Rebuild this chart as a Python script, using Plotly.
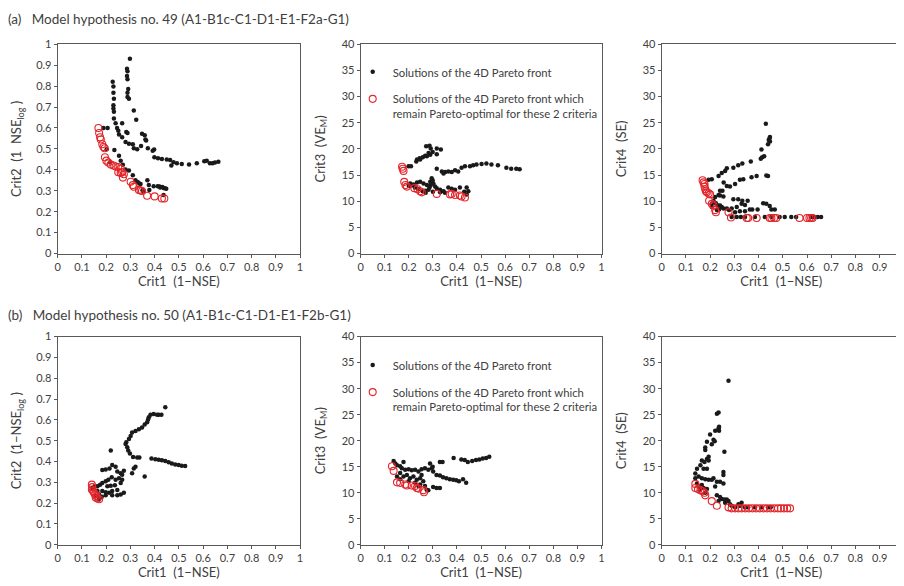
import plotly.graph_objects as go

# ---------------- DATA ----------------
x_ticks = [0, 0.1, 0.2, 0.3, 0.4, 0.5, 0.6, 0.7, 0.8, 0.9, 1]

# (a) hypothesis 49 : Crit1 vs Crit2
a12_black_x = [0.298, 0.286, 0.288, 0.286, 0.288, 0.291, 0.288, 0.288, 0.294, 0.227, 0.230, 0.230, 0.232, 0.230,
               0.230, 0.232, 0.232, 0.239, 0.245, 0.250, 0.314, 0.324, 0.189, 0.206, 0.266, 0.253, 0.266, 0.283,
               0.288, 0.280, 0.294, 0.310, 0.314, 0.328, 0.348, 0.359, 0.362, 0.365, 0.344, 0.372, 0.392, 0.398,
               0.399, 0.414, 0.430, 0.450, 0.464, 0.469, 0.478, 0.492, 0.512, 0.542, 0.574, 0.605, 0.615, 0.628,
               0.639, 0.649, 0.663, 0.202, 0.216, 0.234, 0.253, 0.260, 0.269, 0.280, 0.294, 0.310, 0.321, 0.337,
               0.370, 0.376, 0.396, 0.413, 0.423, 0.437, 0.448, 0.437, 0.378, 0.355, 0.330, 0.342, 0.420, 0.432,
               0.442, 0.350]
a12_black_y = [0.931, 0.883, 0.871, 0.849, 0.833, 0.787, 0.768, 0.748, 0.740, 0.821, 0.799, 0.768, 0.740, 0.709,
               0.693, 0.678, 0.646, 0.623, 0.600, 0.587, 0.684, 0.639, 0.600, 0.600, 0.623, 0.569, 0.556, 0.581,
               0.576, 0.533, 0.525, 0.522, 0.503, 0.498, 0.572, 0.565, 0.545, 0.540, 0.514, 0.503, 0.491, 0.497,
               0.460, 0.455, 0.452, 0.449, 0.447, 0.421, 0.436, 0.431, 0.428, 0.425, 0.431, 0.441, 0.444, 0.431,
               0.431, 0.435, 0.439, 0.498, 0.436, 0.495, 0.467, 0.444, 0.424, 0.402, 0.397, 0.374, 0.350, 0.335,
               0.350, 0.327, 0.322, 0.322, 0.316, 0.313, 0.310, 0.280, 0.304, 0.296, 0.342, 0.332, 0.320, 0.318,
               0.312, 0.302]
a12_red_x = [0.168, 0.171, 0.175, 0.178, 0.184, 0.189, 0.194, 0.195, 0.201, 0.209, 0.219, 0.230, 0.239, 0.250,
             0.260, 0.250, 0.260, 0.266, 0.273, 0.269, 0.301, 0.310, 0.314, 0.335, 0.342, 0.348, 0.369, 0.400,
             0.430, 0.440]
a12_red_y = [0.600, 0.576, 0.556, 0.545, 0.522, 0.509, 0.503, 0.460, 0.444, 0.435, 0.425, 0.421, 0.416, 0.413,
             0.405, 0.389, 0.385, 0.389, 0.379, 0.363, 0.343, 0.327, 0.319, 0.304, 0.301, 0.299, 0.276, 0.273,
             0.263, 0.263]

# (a) hypothesis 49 : Crit1 vs Crit3
a13_black_x = [0.272, 0.286, 0.291, 0.316, 0.333, 0.299, 0.316, 0.289, 0.275, 0.258, 0.245, 0.234, 0.231, 0.247,
               0.268, 0.282, 0.199, 0.209, 0.316, 0.337, 0.351, 0.364, 0.344, 0.378, 0.392, 0.405, 0.419, 0.433,
               0.454, 0.467, 0.481, 0.502, 0.522, 0.543, 0.570, 0.605, 0.625, 0.646, 0.660, 0.206, 0.220, 0.234,
               0.247, 0.261, 0.275, 0.289, 0.295, 0.299, 0.302, 0.309, 0.316, 0.330, 0.344, 0.364, 0.378, 0.392,
               0.412, 0.440, 0.447, 0.282, 0.268, 0.286, 0.291, 0.258, 0.270, 0.300, 0.330, 0.350, 0.440, 0.430,
               0.200, 0.210, 0.225, 0.240]
a13_black_y = [20.5, 20.6, 20.1, 20.1, 19.9, 19.4, 19.0, 18.9, 18.6, 18.4, 18.2, 18.0, 17.6, 18.0,
               18.7, 19.2, 16.7, 16.7, 16.2, 15.7, 15.6, 15.7, 15.3, 15.6, 15.9, 15.7, 16.4, 16.7,
               16.7, 16.9, 17.0, 17.1, 17.2, 17.0, 16.9, 16.4, 16.2, 16.2, 16.1, 13.4, 13.2, 13.6,
               13.7, 13.4, 13.1, 13.7, 14.4, 14.0, 13.4, 12.8, 12.5, 12.2, 11.9, 12.6, 12.4, 12.2,
               12.6, 12.6, 11.9, 12.2, 12.0, 12.6, 13.1, 11.9, 11.6, 11.8, 11.7, 11.6, 11.3, 11.8,
               12.9, 13.0, 12.6, 12.3]
a13_red_x = [0.172, 0.175, 0.178, 0.181, 0.186, 0.192, 0.223, 0.236, 0.247, 0.254, 0.316, 0.371, 0.378, 0.392,
             0.412, 0.419, 0.433]
a13_red_y = [16.6, 16.2, 15.8, 13.7, 13.1, 12.8, 12.5, 12.3, 11.9, 11.7, 11.4, 11.3, 11.4, 11.2,
             11.1, 10.9, 10.7]

# (a) hypothesis 49 : Crit1 vs Crit4
a14_black_x = [0.430, 0.447, 0.445, 0.442, 0.447, 0.439, 0.412, 0.415, 0.409, 0.423, 0.368, 0.333, 0.316, 0.296,
               0.269, 0.262, 0.248, 0.235, 0.207, 0.194, 0.439, 0.432, 0.392, 0.371, 0.337, 0.323, 0.303, 0.282,
               0.269, 0.256, 0.241, 0.235, 0.255, 0.241, 0.251, 0.296, 0.316, 0.333, 0.355, 0.330, 0.344, 0.364,
               0.374, 0.396, 0.419, 0.432, 0.446, 0.453, 0.467, 0.221, 0.214, 0.207, 0.207, 0.224, 0.232, 0.241,
               0.248, 0.228, 0.237, 0.255, 0.269, 0.278, 0.289, 0.303, 0.323, 0.344, 0.310, 0.289, 0.310, 0.327,
               0.344, 0.385, 0.426, 0.453, 0.487, 0.508, 0.535, 0.555, 0.617, 0.630, 0.644, 0.658]
a14_black_y = [24.8, 22.3, 22.0, 21.7, 21.4, 20.9, 19.9, 18.4, 18.1, 18.6, 17.6, 17.2, 16.9, 16.4,
               16.3, 15.8, 15.4, 14.8, 14.2, 14.1, 14.8, 14.9, 14.8, 14.6, 14.2, 14.1, 13.3, 12.8,
               12.9, 13.6, 12.0, 11.2, 10.9, 11.1, 12.0, 10.4, 10.4, 10.1, 10.1, 9.5, 9.3, 8.4,
               8.4, 8.4, 9.6, 9.5, 9.1, 8.4, 8.4, 10.8, 10.1, 9.5, 8.9, 9.6, 9.2, 9.2,
               8.9, 8.3, 8.4, 8.6, 8.6, 8.3, 8.6, 7.9, 8.1, 8.1, 8.9, 7.0, 7.0, 7.0,
               7.0, 7.0, 7.0, 7.0, 7.0, 7.0, 7.0, 7.0, 7.0, 7.0, 7.0, 7.0]
a14_red_x = [0.169, 0.173, 0.177, 0.177, 0.180, 0.183, 0.187, 0.194, 0.200, 0.196, 0.207, 0.214, 0.221, 0.224,
             0.276, 0.286, 0.351, 0.357, 0.392, 0.446, 0.453, 0.464, 0.473, 0.569, 0.600, 0.610, 0.617, 0.623]
a14_red_y = [14.0, 13.6, 13.3, 12.8, 12.3, 11.9, 11.7, 11.5, 11.3, 10.1, 9.5, 9.2, 8.3, 7.9,
             7.9, 6.9, 6.8, 6.8, 6.8, 6.8, 6.8, 6.8, 6.8, 6.8, 6.8, 6.8, 6.8, 6.8]

# (b) hypothesis 50 : Crit1 vs Crit2
b12_black_x = [0.444, 0.417, 0.396, 0.410, 0.428, 0.383, 0.376, 0.373, 0.369, 0.359, 0.348, 0.335, 0.321, 0.307,
               0.301, 0.294, 0.283, 0.280, 0.287, 0.291, 0.298, 0.311, 0.328, 0.337, 0.219, 0.387, 0.403, 0.417,
               0.430, 0.444, 0.458, 0.471, 0.485, 0.499, 0.512, 0.526, 0.321, 0.314, 0.307, 0.359, 0.184, 0.198,
               0.214, 0.225, 0.239, 0.246, 0.260, 0.273, 0.266, 0.253, 0.239, 0.223, 0.209, 0.198, 0.184, 0.175,
               0.164, 0.153, 0.143, 0.205, 0.219, 0.236, 0.260, 0.266, 0.246, 0.225, 0.212, 0.198, 0.184, 0.171,
               0.182, 0.198, 0.225, 0.246, 0.260, 0.273, 0.164, 0.157, 0.171]
b12_black_y = [0.661, 0.625, 0.628, 0.625, 0.625, 0.625, 0.613, 0.602, 0.589, 0.578, 0.563, 0.555, 0.547, 0.539,
               0.523, 0.508, 0.492, 0.484, 0.469, 0.453, 0.438, 0.422, 0.419, 0.419, 0.453, 0.414, 0.411, 0.409,
               0.406, 0.403, 0.397, 0.391, 0.386, 0.383, 0.380, 0.378, 0.375, 0.367, 0.344, 0.328, 0.359, 0.362,
               0.367, 0.383, 0.375, 0.352, 0.344, 0.356, 0.336, 0.320, 0.313, 0.325, 0.313, 0.305, 0.297, 0.289,
               0.281, 0.281, 0.273, 0.281, 0.284, 0.286, 0.297, 0.313, 0.263, 0.258, 0.250, 0.253, 0.258, 0.242,
               0.231, 0.238, 0.238, 0.238, 0.242, 0.250, 0.258, 0.234, 0.219]
b12_red_x = [0.141, 0.143, 0.141, 0.146, 0.150, 0.154, 0.161, 0.164, 0.171, 0.157]
b12_red_y = [0.289, 0.277, 0.266, 0.258, 0.250, 0.242, 0.234, 0.223, 0.219, 0.227]

# (b) hypothesis 50 : Crit1 vs Crit3
b13_black_x = [0.534, 0.521, 0.507, 0.493, 0.479, 0.463, 0.445, 0.432, 0.418, 0.386, 0.340, 0.329, 0.299, 0.288,
               0.295, 0.301, 0.315, 0.329, 0.342, 0.356, 0.370, 0.384, 0.397, 0.408, 0.425, 0.438, 0.301, 0.315,
               0.329, 0.137, 0.144, 0.151, 0.164, 0.178, 0.171, 0.185, 0.199, 0.212, 0.226, 0.240, 0.253, 0.267,
               0.281, 0.164, 0.178, 0.192, 0.205, 0.219, 0.233, 0.247, 0.253, 0.260, 0.226, 0.247, 0.267, 0.274,
               0.281, 0.240, 0.164, 0.151, 0.199]
b13_black_y = [16.9, 16.7, 16.6, 16.4, 16.3, 16.1, 15.9, 16.3, 16.4, 16.7, 15.9, 15.9, 15.0, 15.6,
               14.7, 14.1, 13.4, 13.3, 13.0, 12.8, 12.6, 12.5, 12.4, 12.2, 12.6, 11.9, 11.1, 10.9,
               10.9, 16.1, 15.6, 15.3, 15.1, 15.9, 14.7, 14.4, 14.5, 14.3, 14.4, 14.1, 14.5, 14.7,
               14.4, 13.8, 13.1, 13.4, 12.8, 13.1, 12.5, 12.8, 13.4, 12.2, 11.9, 11.6, 11.3, 10.6,
               10.5, 11.3, 12.6, 13.1, 12.2]
b13_red_x = [0.130, 0.137, 0.151, 0.164, 0.185, 0.192, 0.212, 0.226, 0.233, 0.240, 0.260, 0.263]
b13_red_y = [15.1, 14.2, 12.0, 11.9, 11.6, 11.4, 11.4, 11.3, 10.9, 10.8, 10.5, 10.1]

# (b) hypothesis 50 : Crit1 vs Crit4
b14_black_x = [0.276, 0.235, 0.228, 0.237, 0.235, 0.237, 0.221, 0.214, 0.207, 0.219, 0.200, 0.180, 0.180, 0.187,
               0.194, 0.187, 0.194, 0.177, 0.166, 0.160, 0.146, 0.173, 0.187, 0.259, 0.255, 0.255, 0.255, 0.139,
               0.139, 0.153, 0.166, 0.180, 0.194, 0.207, 0.214, 0.228, 0.241, 0.221, 0.146, 0.166, 0.153, 0.173,
               0.187, 0.158, 0.180, 0.228, 0.241, 0.248, 0.259, 0.269, 0.276, 0.235, 0.262, 0.282, 0.289, 0.317,
               0.330, 0.323, 0.303, 0.344, 0.357, 0.385, 0.412, 0.439, 0.450]
b14_black_y = [31.5, 25.4, 25.2, 22.7, 22.4, 21.9, 21.9, 20.2, 19.3, 19.9, 21.2, 18.7, 18.2, 19.8,
               16.9, 16.5, 16.2, 15.9, 16.2, 15.3, 14.6, 14.6, 14.6, 17.9, 14.0, 13.4, 11.8, 13.7,
               12.8, 13.1, 12.8, 12.6, 12.5, 12.5, 12.8, 12.1, 12.1, 11.2, 11.8, 11.5, 11.2, 10.9,
               10.7, 10.6, 10.0, 9.5, 9.2, 8.8, 8.7, 8.7, 8.4, 8.4, 8.1, 7.8, 7.5, 7.8,
               8.1, 7.5, 7.2, 7.2, 7.2, 7.2, 7.2, 7.2, 7.2]
b14_red_x = [0.139, 0.139, 0.150, 0.160, 0.169, 0.177, 0.180, 0.207, 0.228, 0.276, 0.289, 0.303, 0.317, 0.330,
             0.345, 0.360, 0.375, 0.390, 0.405, 0.420, 0.435, 0.450, 0.465, 0.480, 0.492, 0.505, 0.518, 0.530]
b14_red_y = [11.7, 10.9, 10.7, 10.5, 10.3, 10.0, 9.5, 8.4, 7.5, 7.2, 7.0, 7.0, 7.0, 7.0,
             7.0, 7.0, 7.0, 7.0, 7.0, 7.0, 7.0, 7.0, 7.0, 7.0, 7.0, 7.0, 7.0, 7.0]

NB = "\u00a0"
legend_black = "Solutions of the 4D Pareto front"
legend_red = "Solutions of the 4D Pareto front which<br>remain Pareto-optimal for these 2 criteria"
title_a = f"(a){NB*3}Model hypothesis no. 49 (A1-B1c-C1-D1-E1-F2a-G1)"
title_b = f"(b){NB*3}Model hypothesis no. 50 (A1-B1c-C1-D1-E1-F2b-G1)"
xtitle = f"Crit1{NB*2}(1\u2212NSE)"
ytitles = [f"Crit2{NB*2}(1{NB*2}NSE<sub>log</sub>{NB})", f"Crit3{NB*2}(VE<sub>M</sub>)", f"Crit4{NB*2}(SE)",
           f"Crit2{NB*2}(1\u2212NSE<sub>log</sub>{NB})", f"Crit3{NB*2}(VE<sub>M</sub>)", f"Crit4{NB*2}(SE)"]

# ---------------- FIGURE ----------------
OFF = 8                      # page body margin of the html page
W, H = 904 - OFF, 586 - OFF
FONT = "Lato, 'Open Sans', sans-serif"
TXT = "#404040"
LINE = "#595959"
BLACK = "#1a1a1a"
RED = "#e3262b"

panels = [
    (a12_black_x, a12_black_y, a12_red_x, a12_red_y),
    (a13_black_x, a13_black_y, a13_red_x, a13_red_y),
    (a14_black_x, a14_black_y, a14_red_x, a14_red_y),
    (b12_black_x, b12_black_y, b12_red_x, b12_red_y),
    (b13_black_x, b13_black_y, b13_red_x, b13_red_y),
    (b14_black_x, b14_black_y, b14_red_x, b14_red_y),
]

# screen-pixel frames of plot areas
xdom_px = [(55, 299), (360, 602.5), (663, 904)]
ydom_px = [(38, 252), (337, 550)]


def px_x(p):
    return (p - OFF) / W


def px_y(p):
    return 1 - (p - OFF) / H


fig = go.Figure()
for i, (bx, by, rx, ry) in enumerate(panels):
    n = i + 1
    xa = "x" if n == 1 else f"x{n}"
    ya = "y" if n == 1 else f"y{n}"
    leg = None
    show = False
    if n == 2:
        leg, show = "legend", True
    elif n == 5:
        leg, show = "legend2", True
    kw = dict(legend=leg) if leg else {}
    fig.add_trace(go.Scatter(x=bx, y=by, mode="markers", xaxis=xa, yaxis=ya, name=legend_black,
                             showlegend=show, legendgroup=f"b{n}",
                             marker=dict(color=BLACK, size=4.5, line=dict(width=0)), **kw))
    fig.add_trace(go.Scatter(x=rx, y=ry, mode="markers", xaxis=xa, yaxis=ya, name=legend_red,
                             showlegend=show, legendgroup=f"r{n}",
                             marker=dict(symbol="circle-open", color=RED, size=7, line=dict(width=1.1)), **kw))

layout = dict(
    width=W, height=H, margin=dict(l=0, r=0, t=0, b=0),
    paper_bgcolor="white", plot_bgcolor="white",
    font=dict(family=FONT, size=11, color=TXT),
)
for i in range(6):
    n = i + 1
    col, row = i % 3, i // 3
    l, r = xdom_px[col]
    t, b = ydom_px[row]
    xk = "xaxis" if n == 1 else f"xaxis{n}"
    yk = "yaxis" if n == 1 else f"yaxis{n}"
    ya_name = "y" if n == 1 else f"y{n}"
    xa_name = "x" if n == 1 else f"x{n}"
    xmax = 1.0 if col < 2 else (904 - 663) / 244.0
    layout[xk] = dict(
        domain=[px_x(l), min(1.0, px_x(r))], anchor=ya_name, range=[0, xmax],
        tickvals=x_ticks, ticktext=[f"{v:g}" for v in x_ticks],
        showline=True, mirror=True, linecolor=LINE, linewidth=1,
        ticks="outside", ticklen=3, tickcolor=LINE, showgrid=False, zeroline=False,
        tickfont=dict(size=11, color=TXT),
        title=dict(text=xtitle, standoff=4, font=dict(size=13, color=TXT)),
    )
    if col == 0:
        yr, dt = [0, 1], 0.1
    else:
        yr, dt = [0, 40], 5
    layout[yk] = dict(
        domain=[px_y(b), px_y(t)], anchor=xa_name, range=yr, dtick=dt, tick0=0,
        showline=True, mirror=(col < 2), linecolor=LINE, linewidth=1,
        ticks="outside", ticklen=3, tickcolor=LINE, showgrid=False, zeroline=False,
        tickfont=dict(size=11, color=TXT),
        title=dict(text=ytitles[i], standoff=13, font=dict(size=13, color=TXT)),
    )

leg_common = dict(xanchor="left", yanchor="top", bgcolor="rgba(0,0,0,0)",
                  font=dict(size=11.3, color=TXT), valign="top",
                  traceorder="grouped", tracegroupgap=8, itemwidth=30)
layout["legend"] = dict(x=px_x(352), y=px_y(52), **leg_common)
layout["legend2"] = dict(x=px_x(352), y=px_y(352), **leg_common)

layout["annotations"] = [
    dict(text=title_a, x=px_x(3), y=px_y(12), xref="paper", yref="paper", xanchor="left", yanchor="middle",
         showarrow=False, font=dict(size=13.5, color=TXT)),
    dict(text=title_b, x=px_x(3), y=px_y(315), xref="paper", yref="paper", xanchor="left", yanchor="middle",
         showarrow=False, font=dict(size=13.5, color=TXT)),
]
fig.update_layout(**layout)
fig.write_html("out.html")
